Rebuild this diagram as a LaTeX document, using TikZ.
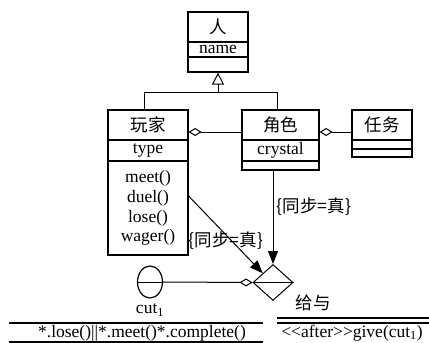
\documentclass[tikz,border=0pt]{standalone}
\usepackage{fontspec}
\setmainfont{Liberation Serif}
\newfontfamily\cjk{Noto Sans CJK SC}
\usetikzlibrary{shapes.geometric,arrows.meta}
\begin{document}
\begin{tikzpicture}[x=1pt,y=-1pt,
  cls/.style={draw, line width=1.2pt, inner sep=0},
  lat/.style={font=\fontsize{17.5}{19}\selectfont, inner sep=0},
  cjkt/.style={font=\cjk\fontsize{17.5}{19}\selectfont, inner sep=0},
  conn/.style={line width=1pt},
  filled/.style={-{Triangle[length=13pt,width=10pt]}},
  inherit/.style={-{Triangle[open,length=12pt,width=12pt]}},
  aggr/.style={{Diamond[open,length=13pt,width=8pt]}-}
]
\useasboundingbox (0,0) rectangle (429,343);
% class 人
\node[cls, minimum width=60, minimum height=60] (ren) at (218,42) {};
\draw[line width=1.2pt] (188,42) -- (248,42) (188,57) -- (248,57);
\node[cjkt] (renT) at (218,27) {人};
\node[lat] (renA) at (218,49.5) {name};
% class 玩家
\node[cls, minimum width=80, minimum height=145] (wj) at (148,182.5) {};
\draw[line width=1.2pt] (108,140) -- (188,140) (108,161) -- (188,161);
\node[cjkt] (wjT) at (148,125) {玩家};
\node[lat] (wjA) at (148,150.5) {type};
\node[lat] (m1) at (148,178) {meet()};
\node[lat] (m2) at (148,198) {duel()};
\node[lat] (m3) at (148,218) {lose()};
\node[lat] (m4) at (148,237) {wager()};
% class 角色
\node[cls, minimum width=77, minimum height=60] (js) at (280.5,140) {};
\draw[line width=1.2pt] (242,140) -- (319,140) (242,161) -- (319,161);
\node[cjkt] (jsT) at (280.5,125) {角色};
\node[lat] (jsA) at (280.5,150.5) {crystal};
% class 任务
\node[cls, minimum width=60, minimum height=47] (rw) at (382,133.5) {};
\draw[line width=1.2pt] (352,140) -- (412,140) (352,149) -- (412,149);
\node[cjkt] (rwT) at (382,125) {任务};
% inheritance
\coordinate (jn) at (218,92);
\draw[conn] (wj.north -| 144,0) -- (144,92) -- (277,92) -- (js.north -| 277,0);
\draw[conn, inherit] (jn) -- (ren.south);
% aggregations
\draw[conn, aggr] (wj.east |- 0,132) -- (js.west |- 0,132);
\draw[conn, aggr] (js.east |- 0,132) -- (rw.west |- 0,132);
% diamond and ellipse
\node[draw, diamond, line width=1pt, minimum width=40, minimum height=36, inner sep=0] (gd) at (273,282.5) {};
\node[draw, ellipse, line width=1.2pt, minimum width=25, minimum height=32, inner sep=0] (cut) at (150,282) {};
\draw[conn] (cut.west) -- (cut.east);
\draw[conn, aggr] (gd.west) -- (cut.east);
\draw[conn] (gd.west) -- (gd.east);
\node[lat] (cutL) at (150,310) {cut\textsubscript{1}};
% arrows
\draw[conn, filled] (wj.east |- 0,196) -- (gd.north west);
\draw[conn, filled] (gd.north |- js.south) -- (gd.north);
\node[cjkt] (s1) at (314,207) {\{同步=真\}};
\node[cjkt] (s2) at (226,241) {\{同步=真\}};
% bottom
\node[cjkt] (gy) at (313,303) {给与};
\draw[line width=1.2pt] (277,318) -- (429,318) (277,323) -- (429,323);
\node[lat] (give) at (352,333) {<\kern0pt<after>\kern0pt>give(cut\textsubscript{1})};
\draw[line width=1.2pt] (9,323) -- (263,323) (9,342) -- (263,342);
\node[lat] (expr) at (142,333) {*.lose()||*.meet()*.complete()};
\end{tikzpicture}
\end{document}
